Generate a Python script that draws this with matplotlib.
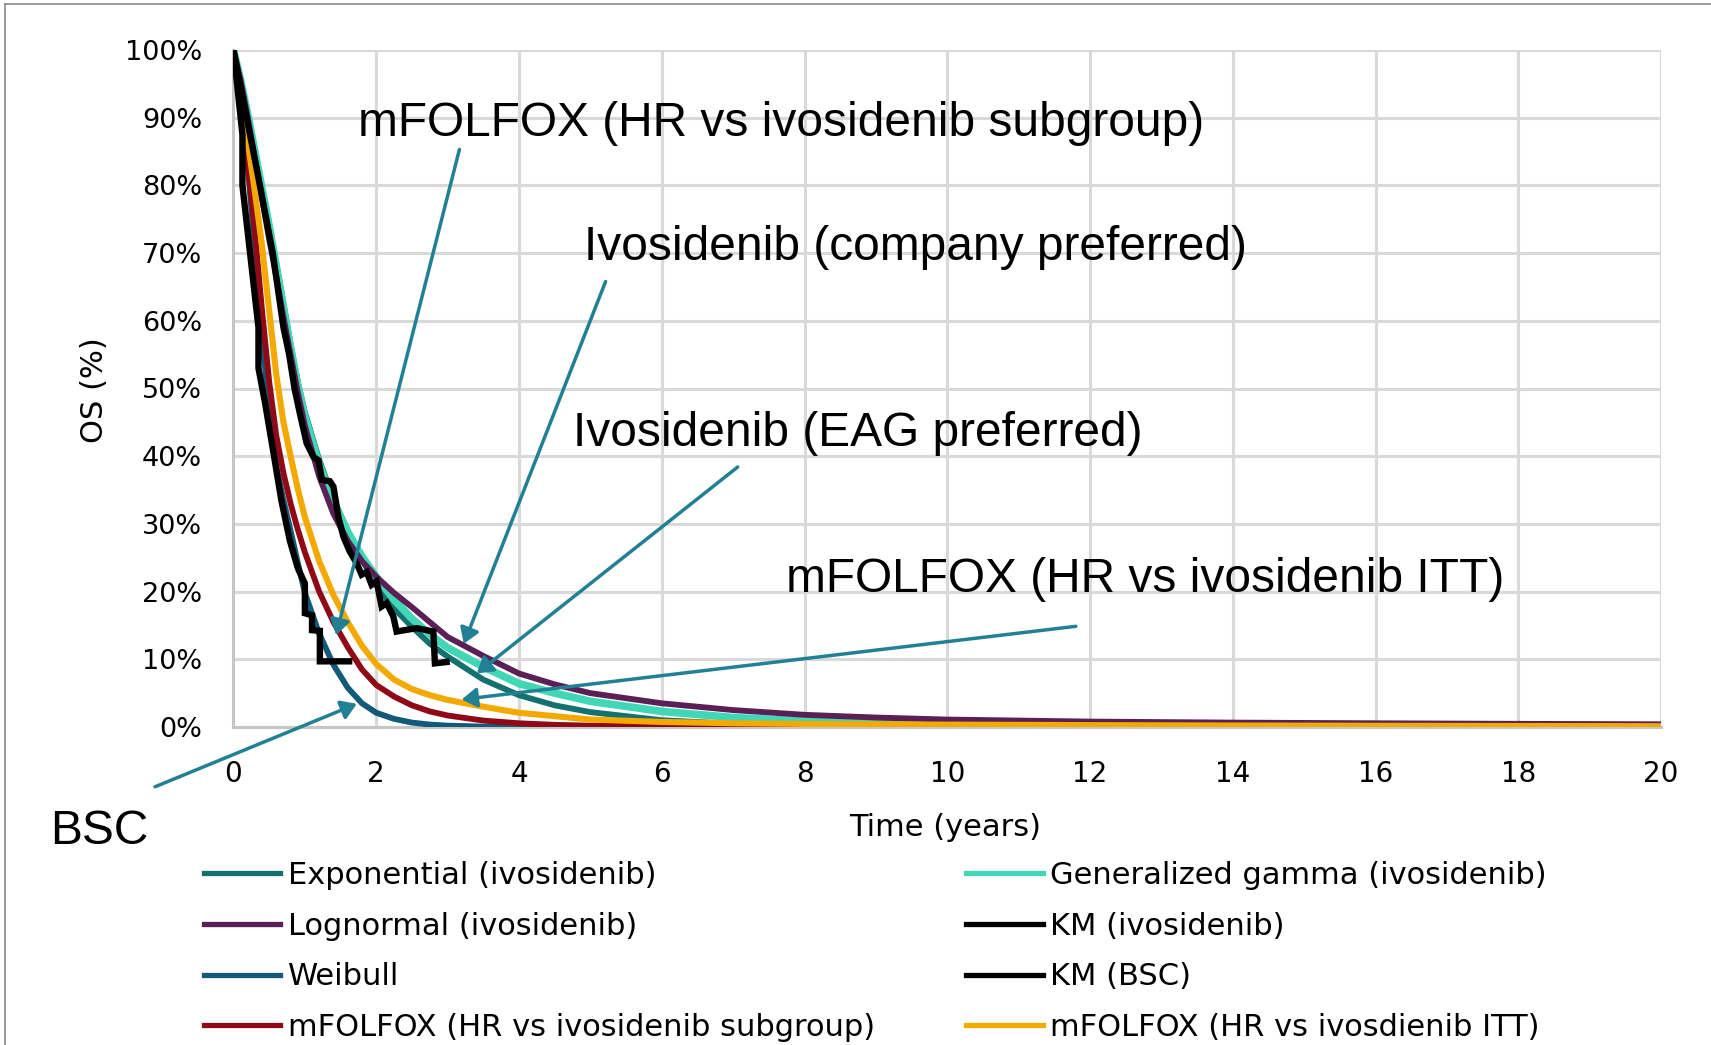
import matplotlib
matplotlib.use("Agg")
import matplotlib.pyplot as plt
from matplotlib.lines import Line2D
from matplotlib.patches import ArrowStyle

W, H, DPI = 1711, 1045, 100

# ---- data -----------------------------------------------------------------
# time grid (years) for the fitted overall-survival curves
time_years = [0, 0.1, 0.2, 0.3, 0.4, 0.5, 0.6, 0.7, 0.8, 0.9,
              1.0, 1.2, 1.4, 1.6, 1.8, 2.0, 2.25, 2.5, 2.75, 3.0,
              3.5, 4, 4.5, 5, 6, 7, 8, 9, 10, 12,
              14, 16, 18, 20]

os_exponential = [1, .955, .905, .85, .795, .74, .685, .625, .565, .51,
                  .465, .395, .337, .29, .247, .21, .175, .148, .123, .104,
                  .07, .047, .032, .022, .010, .0047, .0022, .001, .0005, .0001,
                  0, 0, 0, 0]
os_gengamma = [1, .955, .905, .85, .795, .74, .68, .62, .56, .505,
               .458, .388, .333, .288, .252, .222, .188, .16, .137, .117,
               .089, .064, .05, .038, .023, .014, .009, .006, .004, .002,
               .0012, .0007, .0004, .0002]
os_lognormal = [1, .955, .90, .84, .78, .72, .665, .605, .55, .495,
                .445, .37, .315, .275, .245, .222, .198, .177, .155, .133,
                .105, .079, .063, .05, .035, .025, .018, .014, .011, .008,
                .0065, .0055, .0047, .004]
os_weibull = [1, .92, .83, .70, .575, .47, .385, .335, .29, .243,
              .198, .138, .092, .058, .035, .021, .012, .0065, .0036, .002,
              .0006, .0002, 0, 0, 0, 0, 0, 0, 0, 0,
              0, 0, 0, 0]
os_mfolfox_subgroup = [1, .93, .83, .73, .615, .51, .43, .375, .33, .292,
                       .258, .20, .155, .118, .085, .062, .045, .032, .023, .017,
                       .0095, .0055, .0032, .002, .0008, .0003, .0001, 0, 0, 0,
                       0, 0, 0, 0]
os_mfolfox_itt = [1, .94, .865, .79, .71, .615, .52, .45, .40, .352,
                  .31, .245, .195, .155, .12, .093, .07, .056, .047, .04,
                  .03, .021, .016, .011, .0075, .0055, .0045, .004, .0035, .0028,
                  .0022, .0018, .0015, .0012]

# Kaplan-Meier step paths
km_ivo_t = [0, 0.185, 0.37, 0.55, 0.70, 0.78, 0.855, 0.93, 1.025, 1.12,
            1.19, 1.24, 1.35, 1.40, 1.47, 1.54, 1.63, 1.725, 1.795, 1.865,
            1.935, 2.005, 2.075, 2.146, 2.24, 2.285, 2.565, 2.80, 2.822, 2.985]
km_ivo_s = [1.0, 0.90, 0.80, 0.70, 0.59, 0.55, 0.50, 0.463, 0.419, 0.399,
            0.394, 0.365, 0.363, 0.355, 0.31, 0.281, 0.259, 0.242, 0.225, 0.229,
            0.21, 0.215, 0.178, 0.183, 0.163, 0.141, 0.146, 0.141, 0.094, 0.096]
km_bsc_t = [0, 0.125, 0.125, 0.2, 0.28, 0.35, 0.35, 0.44, 0.56, 0.67,
            0.79, 0.9, 1.0, 1.0, 1.1, 1.1, 1.21, 1.21, 1.62]
km_bsc_s = [1.0, 0.875, 0.80, 0.73, 0.655, 0.59, 0.53, 0.48, 0.405, 0.335,
            0.275, 0.235, 0.212, 0.168, 0.165, 0.143, 0.142, 0.097, 0.097]

x_ticks = [0, 2, 4, 6, 8, 10, 12, 14, 16, 18, 20]
y_ticks = [0, .1, .2, .3, .4, .5, .6, .7, .8, .9, 1.0]
y_tick_labels = ["0%", "10%", "20%", "30%", "40%", "50%", "60%", "70%", "80%", "90%", "100%"]

# ---- styles ---------------------------------------------------------------
C_EXP = "#13716f"
C_GG = "#40d6b6"
C_LN = "#5a1f57"
C_WB = "#135a7a"
C_SUB = "#8f0a16"
C_ITT = "#f3a900"
C_KM = "#000000"
C_ARROW = "#218094"
GRID = "#d9d9d9"

fig = plt.figure(figsize=(W / DPI, H / DPI), dpi=DPI)
x0, x1, ytop, ybot = 233.5, 1661.0, 50.0, 727.0
ax = fig.add_axes([x0 / W, 1 - ybot / H, (x1 - x0) / W, (ybot - ytop) / H])

ax.plot(time_years, os_exponential, color=C_EXP, lw=4.2, zorder=3)
ax.plot(time_years, os_gengamma, color=C_GG, lw=5.5, zorder=3.1)
ax.plot(time_years, os_lognormal, color=C_LN, lw=4.2, zorder=3.2)
ax.plot(time_years, os_weibull, color=C_WB, lw=4.2, zorder=3.3)
ax.plot(time_years, os_mfolfox_subgroup, color=C_SUB, lw=4.2, zorder=3.4)
ax.plot(time_years, os_mfolfox_itt, color=C_ITT, lw=4.4, zorder=3.5)
ax.plot(km_ivo_t, km_ivo_s, color=C_KM, lw=4.6, zorder=3.6,
        solid_joinstyle="miter")
ax.plot(km_bsc_t, km_bsc_s, color=C_KM, lw=4.6, zorder=3.7,
        solid_joinstyle="miter")

ax.set_xlim(0, 20)
ax.set_ylim(0, 1)
ax.set_xticks(x_ticks)
ax.set_xticklabels([str(v) for v in x_ticks], fontsize=20)
ax.set_yticks(y_ticks)
ax.set_yticklabels(y_tick_labels, fontsize=19.5)
ax.tick_params(axis="both", length=0)
ax.tick_params(axis="y", pad=22.5)
ax.tick_params(axis="x", pad=24)
ax.grid(True, color=GRID, lw=2.2, zorder=0)
ax.set_axisbelow(True)
for side in ("top", "right"):
    ax.spines[side].set_visible(False)
for side in ("left", "bottom"):
    ax.spines[side].set_color("#c6c6c6")
    ax.spines[side].set_linewidth(2.2)

ax.set_xlabel("Time (years)", fontsize=22, va="center")
ax.xaxis.set_label_coords((945 - x0) / (x1 - x0), (ybot - 827) / (ybot - ytop))
ax.set_ylabel("OS (%)", fontsize=22, va="center")
ax.yaxis.set_label_coords((95 - x0) / (x1 - x0), (ybot - 390) / (ybot - ytop))

# ---- legend ---------------------------------------------------------------
legend_entries = [
    ("Exponential (ivosidenib)", C_EXP),
    ("Lognormal (ivosidenib)", C_LN),
    ("Weibull", C_WB),
    ("mFOLFOX (HR vs ivosidenib subgroup)", C_SUB),
    ("Generalized gamma (ivosidenib)", C_GG),
    ("KM (ivosidenib)", C_KM),
    ("KM (BSC)", C_KM),
    ("mFOLFOX (HR vs ivosdienib ITT)", C_ITT),
]
handles = [Line2D([], [], color=c, lw=3.8) for _, c in legend_entries]
fig.legend(handles, [l for l, _ in legend_entries], ncol=2, loc="upper left",
           bbox_to_anchor=(204 / W, 1 - 861 / H), frameon=False, fontsize=22,
           handlelength=2.5, handletextpad=0.25, columnspacing=2.98,
           labelspacing=0.71, borderpad=0, borderaxespad=0)

# ---- annotations ----------------------------------------------------------
def px_to_data(px, py):
    return (px - x0) / (x1 - x0) * 20, (ybot - py) / (ybot - ytop)

arrow_style = ArrowStyle("-|>", head_length=0.7, head_width=0.45)
arrows = [
    ((459.4, 149.5), (336.1, 635.1)),
    ((605.6, 281.5), (463.8, 643.8)),
    ((737.7, 467.0), (476.9, 673.3)),
    ((1075.9, 626.3), (461.6, 699.5)),
    ((155.0, 786.8), (356.8, 703.8)),
]
for tail, tip in arrows:
    ax.annotate("", xy=px_to_data(*tip), xytext=px_to_data(*tail),
                xycoords="data", textcoords="data", annotation_clip=False,
                arrowprops=dict(arrowstyle=arrow_style, mutation_scale=13,
                                color=C_ARROW, lw=2.5, shrinkA=0, shrinkB=0),
                zorder=6)

labels = [
    ("mFOLFOX (HR vs ivosidenib subgroup)", 357.9, 124.0),
    ("Ivosidenib (company preferred)", 583.8, 247.5),
    ("Ivosidenib (EAG preferred)", 572.9, 433.5),
    ("mFOLFOX (HR vs ivosidenib ITT)", 785.7, 580.0),
    ("BSC", 50.2, 831.0),
]
for txt, px, py in labels:
    fig.text(px / W, 1 - py / H, txt, family="Liberation Sans", fontsize=34.5,
             ha="left", va="center", color="black")

# thin frame along the top and left edges of the canvas
fig.add_artist(Line2D([5 / W, 1], [1 - 4 / H, 1 - 4 / H], color="#8a8a8a",
                      lw=1.2, transform=fig.transFigure))
fig.add_artist(Line2D([5 / W, 5 / W], [0, 1 - 4 / H], color="#8a8a8a",
                      lw=1.2, transform=fig.transFigure))

fig.savefig("out.png", dpi=DPI)
